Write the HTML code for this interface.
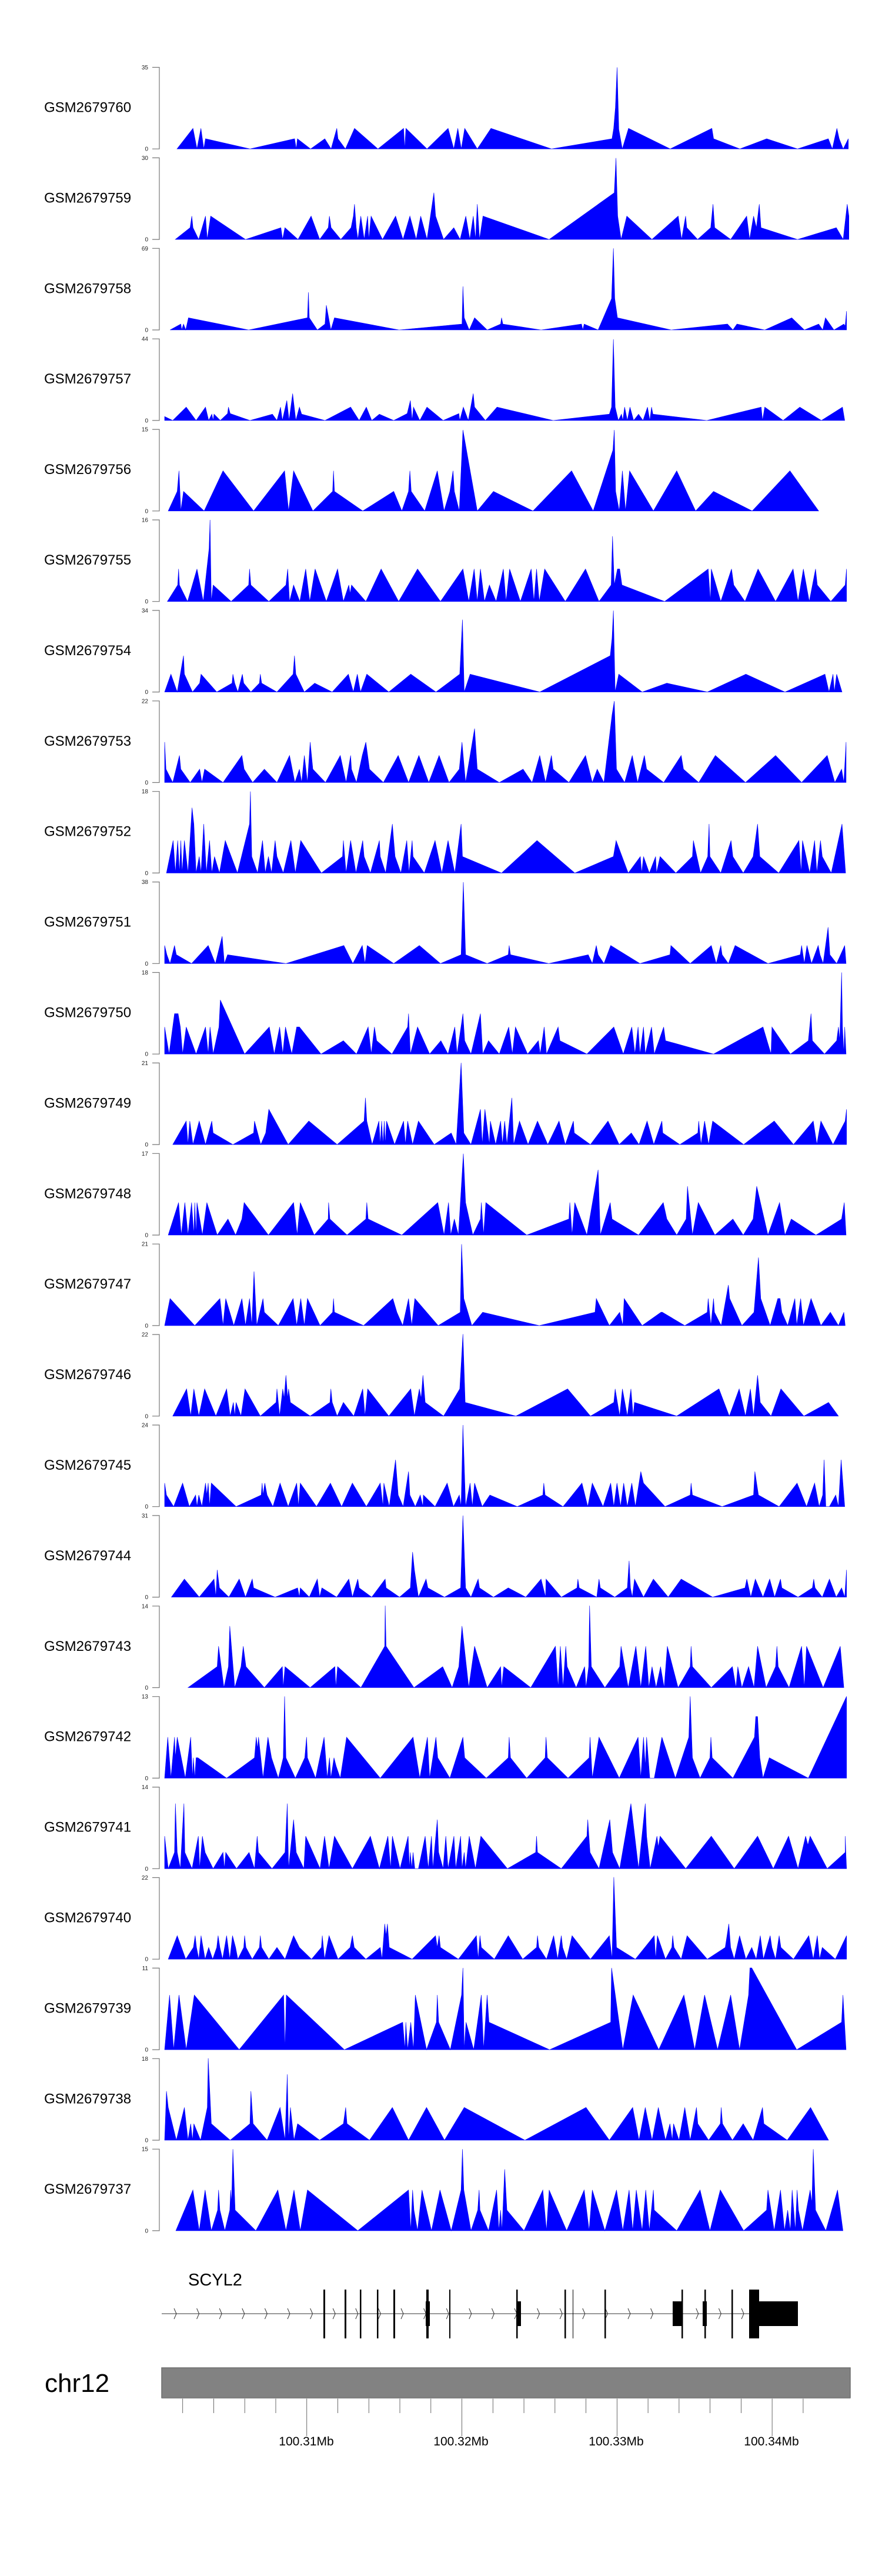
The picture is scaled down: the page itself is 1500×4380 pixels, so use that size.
<!DOCTYPE html>
<html><head><meta charset="utf-8"><style>
html,body{margin:0;padding:0;background:#fff;}
svg{display:block;}
text{font-family:"Liberation Sans",sans-serif;}
</style></head><body>
<svg id="s" width="1500" height="4380" viewBox="0 0 1500 4380" xmlns="http://www.w3.org/2000/svg">
<g id="tracks"></g>
<g id="gene"></g>
<text x="320" y="3886" font-size="29">SCYL2</text>
<rect x="275" y="4026" width="1171" height="51" fill="#828282" stroke="#6e6e6e" stroke-width="1.5"/>
<text x="76" y="4067" font-size="44">chr12</text>
<g id="axis"></g>
<text x="521" y="4158" font-size="21" text-anchor="middle">100.31Mb</text>
<text x="784" y="4158" font-size="21" text-anchor="middle">100.32Mb</text>
<text x="1048" y="4158" font-size="21" text-anchor="middle">100.33Mb</text>
<text x="1312" y="4158" font-size="21" text-anchor="middle">100.34Mb</text>
</svg>
<script>
(function(){
var NS="http://www.w3.org/2000/svg";
function el(p,t,a,txt){var e=document.createElementNS(NS,t);for(var k in a)e.setAttribute(k,a[k]);if(txt!==undefined)e.textContent=txt;p.appendChild(e);return e;}
var names=["GSM2679760","GSM2679759","GSM2679758","GSM2679757","GSM2679756","GSM2679755","GSM2679754","GSM2679753","GSM2679752","GSM2679751","GSM2679750","GSM2679749","GSM2679748","GSM2679747","GSM2679746","GSM2679745","GSM2679744","GSM2679743","GSM2679742","GSM2679741","GSM2679740","GSM2679739","GSM2679738","GSM2679737"];
var maxv=[35,30,69,44,15,16,34,22,18,38,18,21,17,21,22,24,31,14,13,14,22,11,18,15];
var D=[
"310:0 338:105 345:0 352:105 357:0 360:52 438:0 516:52 519:0 521:52 544:0 569:52 580:0 590:105 592:52 605:0 621:105 662:0 707:105 709:0 711:105 748:0 785:105 795:0 802:105 808:0 814:105 836:0 843:30 860:105 966:0 1072:52 1075:105 1078:210 1081:416 1084:100 1090:0 1101:105 1174:0 1247:105 1250:52 1296:0 1343:52 1397:0 1451:52 1458:0 1466:105 1470:52 1477:0 1486:52 1486:0",
"307:0 333:60 336:119 338:60 348:0 360:119 363:0 369:119 430:0 492:60 495:0 499:60 522:0 545:119 560:0 575:60 577:119 580:60 597:0 615:60 619:119 621:180 624:60 627:0 632:119 638:0 644:119 646:0 650:119 670:0 693:119 706:0 718:119 729:0 737:119 748:0 760:238 763:119 777:0 795:60 806:0 816:119 823:0 829:119 833:0 836:180 840:0 846:119 962:0 1076:238 1079:415 1082:119 1088:0 1098:119 1142:0 1188:119 1194:0 1201:119 1203:60 1222:0 1245:60 1249:180 1252:60 1280:0 1308:119 1313:0 1320:119 1325:60 1330:180 1333:60 1397:0 1465:60 1477:0 1484:180 1487:119 1487:0",
"12:0 36:30 38:0 42:30 47:0 53:62 187:0 318:62 320:192 322:62 340:0 357:30 360:126 370:0 378:62 522:0 662:30 664:222 667:62 678:0 690:62 718:0 748:30 750:62 753:30 838:0 928:30 931:0 934:30 965:0 995:160 999:416 1002:160 1008:62 1128:0 1253:30 1265:0 1274:30 1336:0 1396:62 1424:0 1456:30 1465:0 1471:62 1490:0 1512:30 1515:20 1518:96 1518:0",
"0:20 18:0 48:68 70:0 91:68 98:0 105:32 108:0 110:32 124:0 140:35 142:68 146:35 190:0 240:32 250:0 258:68 262:0 272:102 277:0 285:137 292:0 300:68 305:32 357:0 414:68 433:0 449:68 461:0 478:32 510:0 540:35 547:102 551:0 554:68 568:0 584:68 620:0 655:35 657:0 665:68 676:0 687:137 690:68 714:0 740:68 865:0 990:32 995:68 999:414 1003:68 1010:0 1017:32 1020:0 1024:68 1030:0 1036:68 1044:0 1055:32 1065:0 1075:68 1080:0 1084:68 1087:32 1207:0 1328:68 1331:0 1336:68 1377:0 1414:68 1462:0 1509:68 1514:0",
"8:0 28:100 32:205 36:0 42:100 88:0 130:205 198:0 267:205 276:0 287:205 330:0 374:100 376:205 378:100 441:0 510:100 528:0 543:100 546:205 549:100 579:0 607:205 622:0 635:100 642:205 645:100 656:0 664:413 696:0 732:100 820:0 906:205 954:0 998:310 1001:413 1004:100 1012:0 1019:205 1026:0 1035:205 1088:0 1140:205 1182:0 1222:100 1308:0 1392:205 1456:0",
"6:0 29:84 31:166 33:84 51:0 72:166 86:0 99:270 101:416 104:0 108:84 148:0 187:84 189:166 192:84 232:0 270:84 274:166 278:0 287:84 301:0 314:166 323:0 335:166 360:0 385:166 398:0 410:84 413:40 416:84 448:0 482:166 521:0 563:166 614:0 664:166 677:0 689:166 696:0 703:166 712:0 723:84 738:0 754:166 760:0 768:166 792:0 816:166 822:0 828:166 834:0 846:166 892:0 937:166 967:0 994:84 997:333 1001:84 1008:166 1013:166 1018:84 1113:0 1210:166 1215:0 1217:166 1238:0 1262:166 1267:84 1292:0 1321:166 1360:0 1399:166 1410:0 1422:166 1435:0 1449:166 1453:84 1483:0 1515:84 1518:166 1518:0",
"0:0 14:91 28:0 42:185 44:91 62:0 78:45 81:91 116:0 150:45 152:91 156:45 163:0 173:91 176:45 192:0 211:45 213:91 216:45 250:0 286:91 289:185 292:91 311:0 334:45 373:0 409:91 420:0 429:91 436:0 450:91 499:0 548:91 604:0 657:91 663:369 667:0 680:91 835:0 992:185 996:275 999:415 1003:0 1011:91 1063:0 1118:45 1208:0 1294:91 1381:0 1470:91 1479:0 1488:91 1491:0 1496:91 1508:0",
"0:206 3:68 18:0 33:138 36:68 57:0 78:68 83:0 89:68 130:0 172:138 177:68 196:0 222:68 250:0 278:138 290:0 300:68 305:0 311:138 318:0 324:206 330:68 358:0 391:138 404:0 414:138 416:68 427:0 440:138 448:206 456:68 487:0 520:138 543:0 566:138 588:0 611:138 633:0 656:68 662:206 670:0 690:275 696:68 745:0 798:68 818:0 835:138 848:0 861:138 865:68 900:0 937:138 952:0 963:68 978:0 996:345 1001:415 1006:68 1024:0 1041:138 1053:0 1068:138 1073:68 1111:0 1150:138 1155:68 1189:0 1226:138 1293:0 1360:138 1418:0 1475:138 1492:0 1507:68 1512:0 1517:206 1517:0",
"4:0 19:166 24:0 29:166 33:0 36:166 39:0 44:166 52:0 61:333 65:250 70:0 77:84 81:0 87:250 93:0 100:166 105:0 111:84 122:0 135:166 162:0 189:250 191:416 194:84 207:0 218:166 224:0 231:84 238:0 246:166 250:84 264:0 281:166 291:0 303:166 349:0 396:84 398:166 404:0 414:166 426:0 441:166 444:84 458:0 478:166 480:84 492:0 507:250 510:166 513:84 526:0 539:166 544:0 551:166 553:84 578:0 602:166 617:0 631:166 646:0 660:250 663:84 750:0 829:166 913:0 999:84 1005:166 1032:0 1059:84 1062:0 1066:84 1079:0 1093:84 1095:0 1103:84 1138:0 1175:84 1177:166 1193:0 1209:84 1212:250 1214:84 1238:0 1261:166 1265:84 1288:0 1310:84 1320:250 1325:84 1367:0 1412:166 1417:0 1420:166 1436:0 1447:166 1452:0 1460:166 1464:84 1484:0 1508:250 1516:0",
"0:92 5:45 12:0 22:92 26:45 60:0 97:92 113:0 128:139 133:0 140:45 270:0 399:92 419:0 440:92 446:0 451:92 510:0 567:92 614:0 660:45 665:415 670:45 718:0 765:45 767:92 770:45 855:0 943:45 952:0 961:92 965:45 978:0 993:92 1058:0 1125:45 1127:92 1170:0 1217:92 1228:0 1238:92 1241:45 1255:0 1270:92 1343:0 1415:45 1418:92 1424:0 1430:92 1440:0 1455:92 1459:45 1466:0 1477:185 1481:45 1496:0 1514:92 1517:0",
"0:138 10:0 22:206 30:206 35:138 40:0 48:138 70:0 91:138 97:0 101:138 108:0 121:138 124:276 178:0 233:138 244:0 256:138 263:0 269:138 283:0 294:138 300:138 348:0 398:68 427:0 453:138 460:0 467:138 472:68 506:0 541:138 543:206 547:0 563:138 590:0 615:68 631:0 646:138 651:0 664:206 668:68 682:0 703:206 708:0 721:68 745:0 766:138 774:0 781:138 808:0 832:68 836:0 845:138 850:0 876:138 880:68 940:0 1000:138 1021:0 1040:138 1047:0 1054:138 1058:0 1066:138 1070:0 1084:138 1090:0 1111:138 1115:68 1222:0 1332:138 1350:0 1352:138 1393:0 1433:68 1439:206 1442:68 1469:0 1496:68 1500:138 1503:68 1507:416 1509:138 1512:0 1514:138 1517:0",
"18:0 48:120 52:0 56:120 63:0 77:120 91:0 105:120 108:59 152:0 198:59 200:120 214:0 225:59 232:180 275:0 321:120 384:0 444:120 447:238 450:120 462:0 477:120 480:0 483:120 486:0 489:120 491:0 494:120 512:0 532:120 536:0 541:120 552:0 565:120 600:0 638:59 649:0 660:417 666:59 682:0 703:180 707:0 713:180 723:0 725:120 737:0 748:120 752:0 757:120 762:0 773:238 777:0 790:120 809:0 830:120 853:0 878:120 892:0 910:120 912:59 948:0 987:120 1012:0 1039:59 1056:0 1074:120 1089:0 1107:120 1109:59 1147:0 1187:59 1189:120 1194:0 1202:120 1211:0 1220:120 1289:0 1357:120 1400:0 1444:120 1452:0 1461:120 1488:0 1515:120 1518:180 1518:0",
"8:0 31:166 37:0 45:166 52:0 60:166 65:0 67:166 70:0 72:166 84:0 94:166 117:0 141:82 158:0 172:82 177:166 231:0 287:166 295:0 302:166 333:0 364:82 365:166 368:82 406:0 448:82 450:166 453:82 528:0 608:166 622:0 632:166 637:0 645:82 654:0 665:415 670:166 686:0 703:82 705:166 710:0 715:166 806:0 900:82 902:166 907:0 913:166 940:0 965:333 970:0 992:166 996:82 1055:0 1110:166 1118:82 1140:0 1161:82 1164:249 1175:0 1188:166 1225:0 1265:82 1288:0 1310:82 1318:249 1343:0 1369:166 1381:0 1395:82 1450:0 1507:82 1513:166 1517:0",
"0:0 12:138 67:0 123:138 130:0 136:138 154:0 172:138 180:0 189:138 194:0 199:276 205:0 219:138 222:68 253:0 286:138 294:0 303:138 311:0 318:138 346:0 374:68 376:138 378:68 443:0 508:138 517:68 530:0 543:138 550:0 557:138 609:0 658:68 661:415 666:138 684:0 708:68 834:0 958:68 961:138 990:0 1013:68 1020:0 1023:138 1063:0 1105:68 1108:68 1158:0 1208:68 1210:138 1216:0 1222:138 1224:68 1239:0 1255:207 1258:138 1285:0 1312:68 1322:347 1327:138 1348:0 1365:138 1370:138 1374:68 1387:0 1403:138 1407:0 1416:138 1422:0 1439:138 1461:0 1482:68 1500:0 1512:68 1515:0",
"18:0 49:139 58:0 65:139 76:0 89:139 114:0 138:139 146:0 153:70 156:0 159:70 170:0 179:139 213:0 248:70 250:139 256:0 263:139 266:90 270:208 274:90 276:139 280:70 324:0 368:70 370:139 373:70 384:0 398:70 421:0 441:139 446:0 452:139 499:0 548:139 556:0 567:139 571:90 575:208 580:70 621:0 657:139 664:418 669:70 782:0 897:139 948:0 1000:70 1003:139 1013:0 1019:139 1030:0 1038:139 1043:0 1046:70 1140:0 1234:139 1257:0 1279:139 1293:0 1304:139 1311:0 1320:208 1326:70 1350:0 1372:139 1423:0 1478:70 1500:0",
"0:120 4:59 20:0 40:120 55:0 69:59 72:0 76:59 83:0 91:120 94:59 97:120 100:0 104:120 159:0 215:59 217:120 219:59 223:120 228:59 241:0 257:120 275:0 294:120 298:0 302:120 338:0 369:120 394:0 418:120 449:0 480:120 486:0 488:120 500:0 514:239 520:59 531:0 543:179 546:59 558:0 569:59 575:0 576:59 602:0 629:120 643:0 656:59 660:0 664:416 670:0 680:120 685:0 690:120 707:0 724:59 785:0 842:59 844:120 847:59 887:0 929:120 942:0 952:120 976:0 993:120 1000:0 1007:120 1015:0 1022:120 1030:0 1040:120 1048:0 1060:179 1066:120 1114:0 1170:59 1172:120 1175:59 1241:0 1311:59 1314:179 1322:59 1368:0 1408:120 1429:0 1447:120 1457:0 1465:59 1468:239 1472:0 1480:0 1494:59 1500:0 1506:239 1514:0",
"15:0 44:92 77:0 110:92 114:0 117:139 122:47 143:0 166:92 180:0 195:92 198:47 246:0 296:47 300:0 302:47 322:0 340:92 345:0 350:47 383:0 410:92 418:0 430:92 433:47 461:0 491:92 493:47 523:0 547:47 552:230 556:139 565:0 582:92 586:47 623:0 659:47 664:416 670:47 682:0 698:92 701:47 732:0 765:47 804:0 838:92 848:0 849:92 883:0 918:47 920:92 923:47 962:0 967:92 970:47 1002:0 1030:47 1034:185 1037:47 1041:0 1046:92 1066:0 1088:92 1121:0 1150:92 1220:0 1292:47 1296:92 1305:0 1315:92 1332:0 1347:92 1358:0 1371:92 1374:47 1410:0 1442:47 1445:92 1448:47 1464:0 1480:92 1495:0 1507:47 1514:0 1518:139 1518:0",
"52:0 117:107 120:211 132:0 142:107 145:314 156:0 170:107 175:211 181:107 222:0 262:107 264:0 268:107 324:0 379:107 381:0 385:107 437:0 490:211 491:418 493:211 555:0 619:107 640:0 655:107 662:314 677:0 690:211 718:0 748:107 750:0 755:107 815:0 870:211 876:0 881:211 887:0 893:211 896:107 916:0 935:107 938:0 944:107 946:418 950:107 980:0 1013:107 1016:211 1032:0 1049:211 1060:0 1071:211 1078:0 1085:107 1094:0 1104:107 1112:0 1119:211 1143:0 1170:107 1172:211 1175:107 1217:0 1264:107 1272:0 1276:107 1285:0 1300:107 1312:0 1320:211 1339:0 1360:107 1363:211 1366:107 1390:0 1418:211 1424:0 1429:211 1466:0 1504:211 1512:0",
"0:0 7:209 14:0 22:209 24:104 28:209 46:0 58:209 62:0 64:104 67:0 70:104 74:104 138:0 200:104 204:209 207:150 209:209 219:0 230:209 238:104 253:0 264:104 267:417 270:104 291:0 312:104 316:209 318:104 336:0 355:209 362:0 367:104 370:0 377:104 382:60 391:0 405:209 480:0 553:209 568:0 585:209 590:0 604:209 608:104 635:0 664:209 668:104 716:0 765:104 767:209 770:104 806:0 847:104 849:209 852:104 898:0 945:104 947:209 952:0 967:209 1012:0 1054:209 1060:0 1066:209 1070:60 1073:209 1080:0 1090:0 1107:209 1137:0 1167:209 1170:417 1175:104 1192:0 1214:104 1216:209 1219:104 1265:0 1313:209 1316:314 1320:314 1325:104 1332:0 1346:104 1433:0 1518:417 1518:0",
"0:166 8:0 22:83 24:332 28:83 35:0 43:332 45:83 61:0 75:166 78:0 84:166 90:83 108:0 130:83 133:0 136:83 160:0 188:83 200:0 206:166 209:83 239:0 268:83 273:332 276:0 287:250 293:83 310:0 314:166 346:0 356:166 366:0 378:166 418:0 458:166 478:0 497:166 503:0 507:166 524:0 542:166 545:0 547:83 550:0 553:83 557:0 565:0 580:166 587:0 594:166 597:0 607:250 610:83 620:0 626:166 631:0 644:166 648:0 659:166 662:0 667:83 670:0 678:166 692:0 704:166 763:0 826:83 828:166 830:83 883:0 940:166 942:250 947:83 967:0 991:250 997:83 1013:0 1038:332 1055:0 1070:332 1073:166 1081:0 1096:166 1099:110 1103:166 1160:0 1217:166 1268:0 1320:166 1355:0 1389:166 1410:0 1427:166 1432:120 1437:166 1475:0 1515:83 1515:166 1518:0",
"8:0 28:120 47:0 64:60 68:120 71:60 76:0 81:120 90:0 98:60 107:0 116:60 119:120 123:60 129:0 138:120 145:0 151:120 158:60 163:0 176:60 178:120 181:60 195:0 211:60 213:120 216:60 232:0 250:60 268:0 287:120 300:60 327:0 349:60 351:120 356:0 366:120 386:0 413:60 418:120 422:60 448:0 480:60 484:0 490:180 493:120 496:180 500:60 551:0 603:120 607:60 611:120 614:60 654:0 694:120 698:0 702:120 705:60 734:0 765:120 797:0 828:60 830:120 833:60 850:0 866:120 875:0 883:120 886:60 895:0 907:120 948:0 990:120 996:0 1000:418 1006:60 1048:0 1090:120 1093:0 1097:120 1115:0 1129:60 1131:120 1134:60 1150:0 1163:120 1208:0 1248:60 1256:180 1260:60 1268:0 1280:120 1294:0 1307:60 1317:0 1326:120 1333:0 1348:120 1352:60 1360:0 1368:120 1372:60 1400:0 1434:120 1444:0 1453:120 1458:0 1464:60 1493:0 1518:120 1518:0",
"0:0 11:279 20:0 32:279 48:0 66:279 166:0 265:279 268:0 271:279 400:0 530:140 535:0 537:140 541:0 548:140 554:0 558:279 583:0 605:140 607:279 610:140 636:0 661:279 664:417 667:0 671:140 688:0 705:279 710:0 718:279 722:140 857:0 993:140 995:417 1020:0 1043:279 1100:0 1156:279 1180:0 1202:279 1231:0 1260:279 1280:0 1300:279 1303:417 1307:417 1407:0 1507:140 1510:279 1517:0",
"0:0 4:250 8:167 26:0 44:167 52:0 58:84 62:0 65:84 80:0 95:167 97:418 104:84 146:0 190:84 192:250 197:84 228:0 257:167 268:0 273:336 276:0 280:167 288:0 296:84 345:0 398:84 403:167 406:84 456:0 507:167 543:0 583:167 623:0 667:167 802:0 938:167 990:0 1042:167 1056:0 1070:167 1085:0 1099:167 1115:0 1125:84 1130:0 1133:84 1145:0 1158:167 1170:0 1184:167 1187:84 1211:0 1237:84 1239:167 1242:84 1264:0 1288:84 1310:0 1331:167 1334:84 1386:0 1438:167 1478:0",
"25:0 63:208 77:0 90:208 104:0 118:105 120:208 123:105 134:0 145:105 147:208 149:140 152:416 157:105 203:0 252:208 270:0 288:208 302:0 318:208 430:0 543:208 548:0 552:208 555:105 563:0 573:208 594:0 613:208 638:0 660:208 663:416 666:208 682:0 697:105 700:208 702:105 721:0 739:208 744:0 748:105 751:0 757:313 762:105 800:0 842:208 850:0 856:208 895:0 934:208 945:0 952:208 980:0 1006:208 1020:0 1034:208 1042:0 1050:208 1063:0 1071:208 1079:0 1088:208 1090:105 1140:0 1192:208 1214:0 1237:208 1289:0 1340:105 1343:208 1357:0 1371:208 1380:0 1387:105 1393:0 1397:208 1404:0 1408:208 1411:105 1420:0 1437:208 1441:140 1444:416 1449:105 1472:0 1498:208 1510:0"
];
var g=document.getElementById("tracks");
var H=138.7,P=153.9;
for(var k=0;k<24;k++){
  var ty=114.5+k*P, zero=ty+H;
  var pts=D[k].split(" ").map(function(s){return s.split(":").map(Number);});
  var useAbs=k<2;
  var sx=function(x){return useAbs? x/1.03 : 280+x/1.309;};
  var a=[];
  a.push(sx(pts[0][0]).toFixed(1)+","+zero.toFixed(1));
  for(var j=0;j<pts.length;j++){a.push(sx(pts[j][0]).toFixed(1)+","+(zero-pts[j][1]/416*H).toFixed(1));}
  a.push(sx(pts[pts.length-1][0]).toFixed(1)+","+zero.toFixed(1));
  el(g,"polygon",{points:a.join(" "),fill:"#0000ff",stroke:"#0000ff","stroke-width":"0.6","stroke-linejoin":"miter"});
  el(g,"path",{d:"M259,"+ty+"H271V"+zero+"H259",fill:"none",stroke:"#777","stroke-width":"1.2"});
  el(g,"text",{x:252,y:ty+3.5,"font-size":"10","text-anchor":"end",fill:"#222"},String(maxv[k]));
  el(g,"text",{x:252,y:zero+3.5,"font-size":"10","text-anchor":"end",fill:"#222"},"0");
  el(g,"text",{x:75,y:ty+76,"font-size":"24",fill:"#000"},names[k]);
}
var gg=document.getElementById("gene");
el(gg,"line",{x1:275,y1:3934,x2:1275,y2:3934,stroke:"#333","stroke-width":"1"});
for(var x=296;x<1270;x+=38.6){
  el(gg,"path",{d:"M"+x+",3925L"+(x+4)+",3934L"+x+",3943",fill:"none",stroke:"#333","stroke-width":"1"});
}
var ex=[[550,3],[586,3],[612,2.5],[641,2.5],[669,3],[725,4],[764,2],[960,2.5],[974,1],[1028,2.5],[1159,2.5],[1198,2.5],[1244,2.5]];
for(var i=0;i<ex.length;i++){el(gg,"rect",{x:ex[i][0],y:3893,width:ex[i][1],height:83,fill:"#000"});}
el(gg,"rect",{x:724,y:3913,width:7,height:42,fill:"#000"});
el(gg,"rect",{x:878,y:3893,width:2.5,height:83,fill:"#000"});
el(gg,"rect",{x:878,y:3913,width:8,height:42,fill:"#000"});
el(gg,"rect",{x:1144,y:3913,width:17,height:42,fill:"#000"});
el(gg,"rect",{x:1195,y:3913,width:7,height:42,fill:"#000"});
el(gg,"rect",{x:1274,y:3893,width:17,height:83,fill:"#000"});
el(gg,"rect",{x:1290,y:3913,width:67,height:42,fill:"#000"});
var ax=document.getElementById("axis");
for(var i2=0;i2<21;i2++){
  var tx=310.7+i2*52.76; if(tx>1420)break;
  var major=[4,9,14,19].indexOf(i2)>=0;
  el(ax,"line",{x1:tx,y1:4078,x2:tx,y2:major?4142:4103,stroke:"#444","stroke-width":"0.8"});
}
el(ax,"line",{x1:275,y1:4078,x2:1446,y2:4078,stroke:"#bbb","stroke-width":"1"});
})();
</script>
</body></html>
